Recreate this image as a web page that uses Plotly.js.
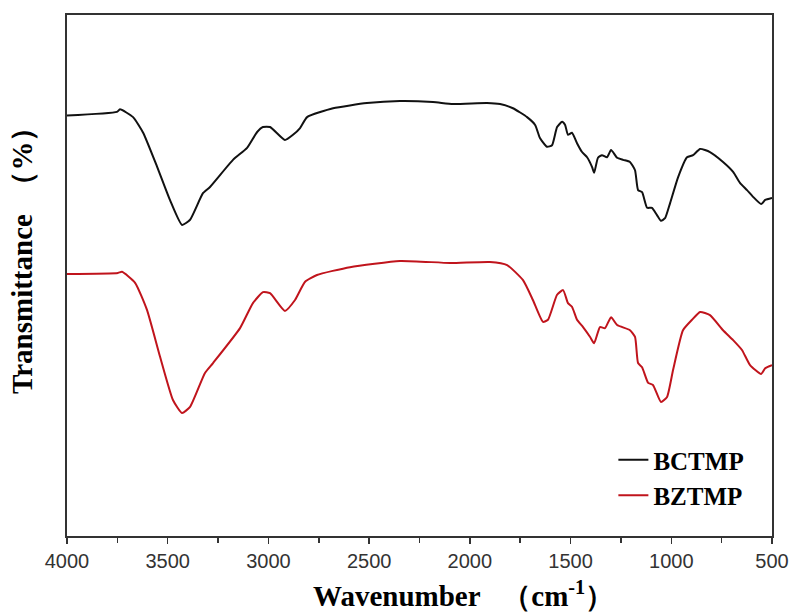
<!DOCTYPE html>
<html>
<head>
<meta charset="utf-8">
<script src="https://cdn.plot.ly/plotly-3.0.1.min.js"></script>
<style>body{margin:0;padding:0;background:#fff;}#chart{width:792px;height:613px;}</style>
</head>
<body>
<div id="chart"></div>
<script>
// Wavenumber (cm-1) and transmittance (arbitrary, %)
const bctmpWavenumber = [4000,3752,3737,3672,3622,3553,3489,3429,3389,3325,3290,3176,3106,3057,3027,2992,2918,2878,2843,2808,2679,2511,2347,2183,2084,1915,1850,1786,1716,1676,1652,1617,1592,1567,1542,1527,1513,1493,1468,1443,1418,1393,1383,1364,1344,1319,1299,1269,1239,1205,1180,1165,1145,1120,1096,1071,1051,1031,1006,966,922,892,857,808,743,693,659,624,594,554,534,500];
const bctmpT = [80.7,81.4,81.9,80.4,77.4,70.9,64.5,59.7,60.7,65.8,67.0,72.2,74.5,77.5,78.5,78.5,76.0,77.0,78.3,80.4,82.1,83.1,83.5,83.3,82.9,83.1,82.9,82.1,80.4,78.9,76.4,74.7,75.0,78.5,79.5,78.9,77.0,77.4,75.4,73.7,72.7,70.8,69.7,72.6,73.1,72.7,74.1,72.6,72.2,71.8,70.2,66.4,66.0,63.0,63.0,61.6,60.5,61.0,63.9,68.9,72.7,73.1,74.3,73.7,71.8,69.9,67.8,66.4,65.1,63.7,64.5,64.9];

const bztmpWavenumber = [4000,3747,3727,3662,3603,3538,3474,3429,3389,3315,3275,3141,3077,3027,2992,2918,2868,2818,2759,2595,2347,2098,1900,1815,1736,1687,1637,1612,1567,1537,1513,1493,1468,1438,1403,1383,1354,1329,1299,1269,1205,1180,1165,1145,1115,1091,1051,1021,991,942,897,857,808,743,693,649,609,554,534,500];
const bztmpT = [50.3,50.5,50.7,48.6,43.4,34.4,26.1,23.6,24.8,31.3,33.2,39.9,44.7,46.8,46.6,43.2,45.3,48.8,50.1,51.6,52.8,52.4,52.6,52.0,49.1,45.3,41.1,41.5,46.3,47.2,44.7,44.0,41.5,40.1,38.2,37.0,40.1,39.9,42.0,40.5,39.5,38.2,33.2,32.4,29.4,29.0,25.7,26.7,31.9,39.5,41.5,43.0,42.4,39.5,37.6,35.7,32.8,31.1,32.2,32.8];

const seriesNames = ['BCTMP','BZTMP'];
const xTickVals = [4000,3500,3000,2500,2000,1500,1000,500];

const serif = '"Times New Roman", "Liberation Serif", serif';

const traces = [
  {x: bctmpWavenumber, y: bctmpT, name: seriesNames[0], type: 'scatter', mode: 'lines',
   line: {color: '#111111', width: 2, shape: 'spline', smoothing: 0.5}},
  {x: bztmpWavenumber, y: bztmpT, name: seriesNames[1], type: 'scatter', mode: 'lines',
   line: {color: '#c0141c', width: 2, shape: 'spline', smoothing: 0.5}}
];

const layout = {
  width: 792, height: 613,
  margin: {l: 67, r: 20, t: 15, b: 77},
  paper_bgcolor: '#ffffff', plot_bgcolor: '#ffffff',
  showlegend: true,
  legend: {x: 0.775, y: 0.19, xanchor: 'left', yanchor: 'top', bgcolor: 'rgba(0,0,0,0)',
           font: {family: serif, size: 25, color: '#000', weight: 'bold'}, tracegroupgap: 0},
  xaxis: {range: [4000, 500], tickvals: xTickVals, ticktext: xTickVals.map(String),
          ticks: 'outside', ticklen: 6, tickwidth: 1.5, tickcolor: '#333',
          minor: {dtick: 250, ticks: 'outside', ticklen: 5, tickwidth: 1.5, tickcolor: '#333'},
          showline: true, mirror: true, linecolor: '#333', linewidth: 2,
          showgrid: false, zeroline: false,
          tickfont: {family: 'Arial, "Liberation Sans", sans-serif', size: 20, color: '#333'}},
  yaxis: {range: [0, 100], showticklabels: false, ticks: '',
          showline: true, mirror: true, linecolor: '#333', linewidth: 2,
          showgrid: false, zeroline: false},
  annotations: [
    {text: 'Wavenumber&nbsp;&nbsp; （cm<sup>-1</sup>）', xref: 'paper', yref: 'paper', x: 0.563, y: -0.112,
     xanchor: 'center', yanchor: 'middle', showarrow: false,
     font: {family: serif, size: 29, color: '#000', weight: 'bold'}},
    {text: 'Transmittance&nbsp; （%）', xref: 'paper', yref: 'paper', x: -0.064, y: 0.543,
     xanchor: 'center', yanchor: 'middle', showarrow: false, textangle: -90,
     font: {family: serif, size: 29, color: '#000', weight: 'bold'}}
  ]
};

Plotly.newPlot('chart', traces, layout, {displayModeBar: false, staticPlot: true});
</script>
</body>
</html>
